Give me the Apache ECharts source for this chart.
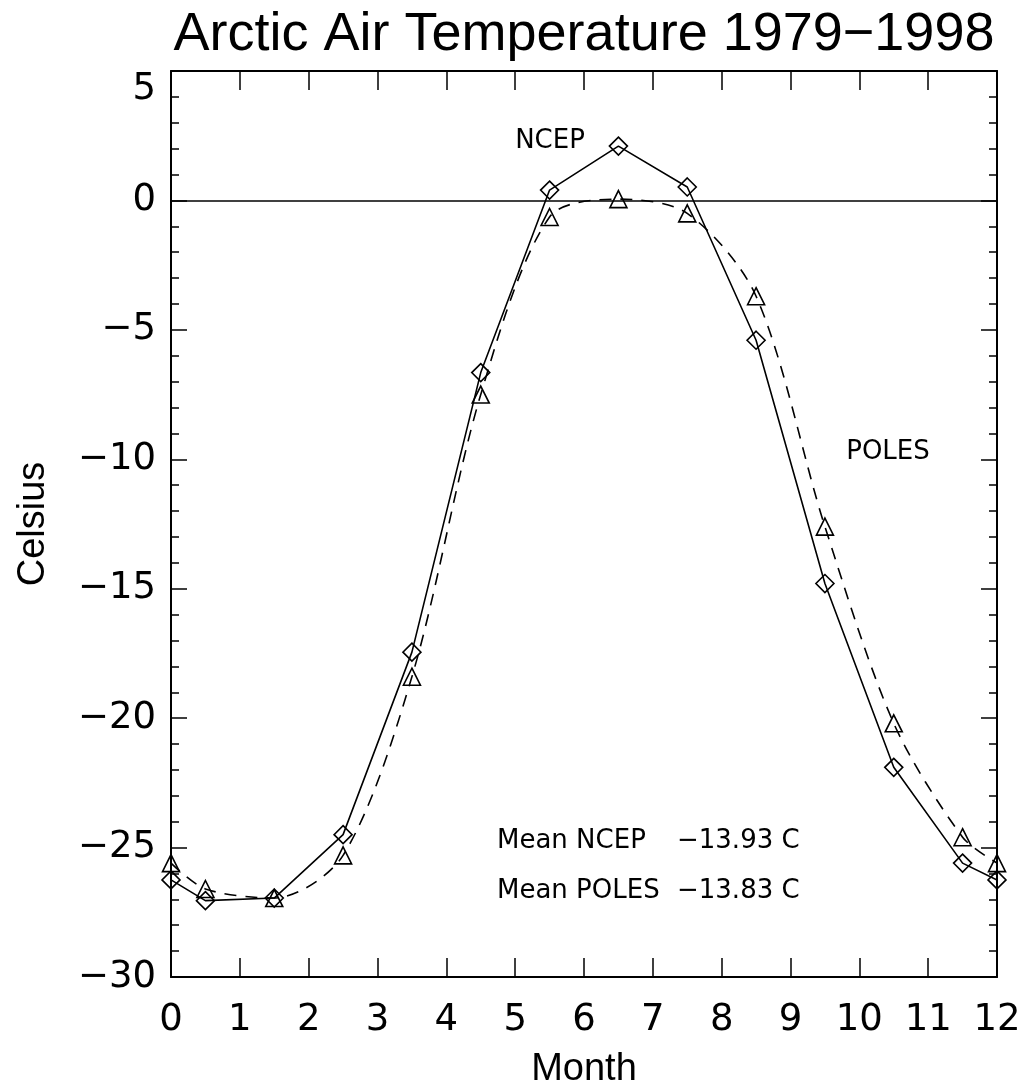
<!DOCTYPE html>
<html>
<head>
<meta charset="utf-8">
<title>Arctic Air Temperature 1979-1998</title>
<script src="https://cdn.jsdelivr.net/npm/echarts@6/dist/echarts.min.js"></script>
<style>
html, body { margin: 0; padding: 0; background: #fff; }
#main { width: 1023px; height: 1085px; }
</style>
</head>
<body>
<div id="main"></div>
<script>
// months (mid-month points, with the year wrapped at 0 and 12)
var months = [0, 0.5, 1.5, 2.5, 3.5, 4.5, 5.5, 6.5, 7.5, 8.5, 9.5, 10.5, 11.5, 12];
// NCEP reanalysis, deg C
var ncep = [-26.25, -27.05, -26.95, -24.5, -17.45, -6.65, 0.4, 2.1, 0.52, -5.4, -14.8, -21.9, -25.6, -26.25];
// POLES, deg C
var poles = [-25.6, -26.6, -26.95, -25.3, -18.4, -7.5, -0.64, 0.05, -0.5, -3.7, -12.6, -20.2, -24.6, -25.6];

var monthTicks = [0, 1, 2, 3, 4, 5, 6, 7, 8, 9, 10, 11, 12];
var celsiusTicks = [-30, -25, -20, -15, -10, -5, 0, 5];

var meanLabels = ['Mean NCEP', 'Mean POLES'];
var meanValues = ['\u221213.93 C', '\u221213.83 C'];

function pairs(xs, ys) {
	return xs.map(function(x, i) { return [x, ys[i]]; });
}

function minus(v) {
	return String(v).replace('-', '\u2212');
}

var black = '#000';
var tickFont = 'DejaVu Sans';

var frameLine = { show: true, onZero: false, lineStyle: { color: black, width: 2 } };
var tickStyle = { color: black, width: 1.5 };

var myChart = echarts.init(document.getElementById('main'), null, { renderer: 'canvas' });

myChart.setOption({
	animation: false,
	backgroundColor: '#fff',

	grid: {
		left: 171,
		right: 26,
		top: 71,
		bottom: 108,
		containLabel: false,
		outerBoundsMode: 'none'
	},

	xAxis: [
		{
			type: 'value',
			position: 'bottom',
			min: monthTicks[0],
			max: monthTicks[monthTicks.length - 1],
			interval: monthTicks[1] - monthTicks[0],
			axisLine: frameLine,
			axisTick: { show: true, inside: true, length: 19, lineStyle: tickStyle },
			axisLabel: {
				margin: 25,
				color: black,
				fontFamily: tickFont,
				fontSize: 37,
				formatter: minus
			},
			splitLine: { show: false },
			name: 'Month',
			nameLocation: 'middle',
			nameGap: 74,
			nameTextStyle: { color: black, fontFamily: 'Liberation Sans', fontSize: 38 }
		},
		{
			type: 'value',
			position: 'top',
			min: monthTicks[0],
			max: monthTicks[monthTicks.length - 1],
			interval: monthTicks[1] - monthTicks[0],
			axisLine: frameLine,
			axisTick: { show: true, inside: true, length: 19, lineStyle: tickStyle },
			axisLabel: { show: false },
			splitLine: { show: false }
		}
	],

	yAxis: [
		{
			type: 'value',
			position: 'left',
			min: celsiusTicks[0],
			max: celsiusTicks[celsiusTicks.length - 1],
			interval: celsiusTicks[1] - celsiusTicks[0],
			axisLine: frameLine,
			axisTick: { show: true, inside: true, length: 16, lineStyle: tickStyle },
			minorTick: { show: true, splitNumber: 5, length: 8, lineStyle: tickStyle },
			axisLabel: {
				margin: 15,
				color: black,
				fontFamily: tickFont,
				fontSize: 37,
				verticalAlignMaxLabel: 'top',
				formatter: minus
			},
			splitLine: { show: false },
			name: 'Celsius',
			nameLocation: 'middle',
			nameGap: 118,
			nameRotate: 90,
			nameTextStyle: { color: black, fontFamily: 'Liberation Sans', fontSize: 38 }
		},
		{
			type: 'value',
			position: 'right',
			min: celsiusTicks[0],
			max: celsiusTicks[celsiusTicks.length - 1],
			interval: celsiusTicks[1] - celsiusTicks[0],
			axisLine: frameLine,
			axisTick: { show: true, inside: true, length: 16, lineStyle: tickStyle },
			minorTick: { show: true, splitNumber: 5, length: 8, lineStyle: tickStyle },
			axisLabel: { show: false },
			splitLine: { show: false }
		}
	],

	series: [
		{
			name: 'NCEP',
			type: 'line',
			data: pairs(months, ncep),
			symbol: 'diamond',
			symbolSize: 18,
			showAllSymbol: true,
			lineStyle: { color: black, width: 1.6, type: 'solid' },
			itemStyle: { color: 'rgba(0,0,0,0)', borderColor: black, borderWidth: 1.6 },
			emphasis: { disabled: true },
			markLine: {
				silent: true,
				symbol: 'none',
				label: { show: false },
				lineStyle: { color: black, width: 1.6, type: 'solid' },
				data: [{ yAxis: 0 }]
			}
		},
		{
			name: 'POLES',
			type: 'line',
			data: pairs(months, poles),
			smooth: 0.3,
			symbol: 'triangle',
			symbolSize: 17,
			showAllSymbol: true,
			lineStyle: { color: black, width: 1.6, type: [12, 9] },
			itemStyle: { color: 'rgba(0,0,0,0)', borderColor: black, borderWidth: 1.6 },
			emphasis: { disabled: true }
		}
	],

	graphic: [
		{
			type: 'text',
			x: 584,
			y: 35,
			style: {
				text: 'Arctic Air Temperature 1979\u22121998',
				fontFamily: 'Liberation Sans',
				fontSize: 54,
				fill: black,
				align: 'center',
				verticalAlign: 'middle'
			}
		},
		{
			type: 'text',
			x: 550,
			y: 141,
			style: { text: 'NCEP', fontFamily: tickFont, fontSize: 26, fill: black, align: 'center', verticalAlign: 'middle' }
		},
		{
			type: 'text',
			x: 888,
			y: 452,
			style: { text: 'POLES', fontFamily: tickFont, fontSize: 26, fill: black, align: 'center', verticalAlign: 'middle' }
		},
		{
			type: 'text',
			x: 497,
			y: 841,
			style: { text: meanLabels[0], fontFamily: tickFont, fontSize: 26, fill: black, align: 'left', verticalAlign: 'middle' }
		},
		{
			type: 'text',
			x: 677,
			y: 841,
			style: { text: meanValues[0], fontFamily: tickFont, fontSize: 26, fill: black, align: 'left', verticalAlign: 'middle' }
		},
		{
			type: 'text',
			x: 497,
			y: 891,
			style: { text: meanLabels[1], fontFamily: tickFont, fontSize: 26, fill: black, align: 'left', verticalAlign: 'middle' }
		},
		{
			type: 'text',
			x: 677,
			y: 891,
			style: { text: meanValues[1], fontFamily: tickFont, fontSize: 26, fill: black, align: 'left', verticalAlign: 'middle' }
		}
	]
});
</script>
</body>
</html>
